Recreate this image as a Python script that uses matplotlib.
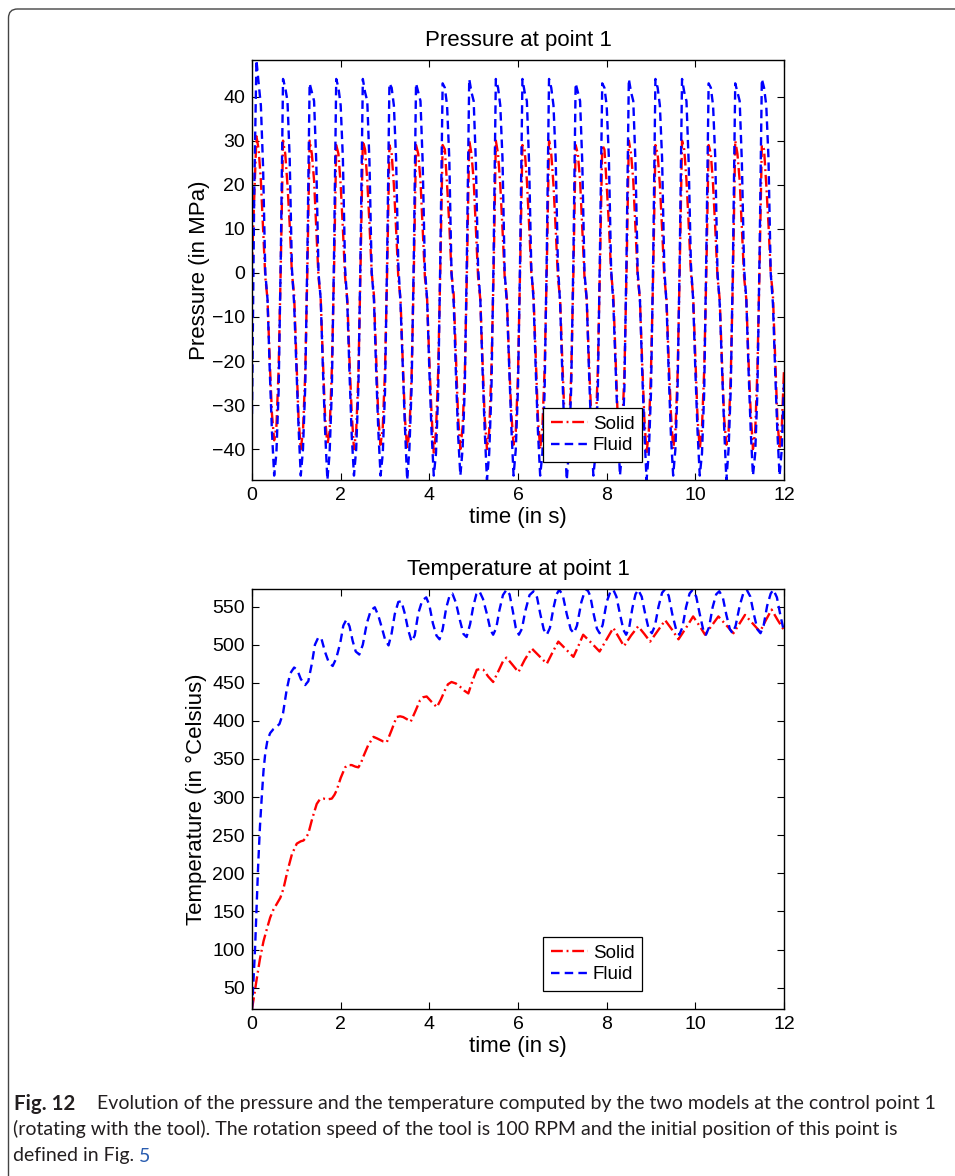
import numpy as np
import matplotlib
matplotlib.use("Agg")
import matplotlib.pyplot as plt
from matplotlib.patches import FancyBboxPatch
from matplotlib.transforms import IdentityTransform

# ---- pressure at point 1 (MPa), sampled every 0.05 s ----
p_time = np.arange(241) * 0.05
p_fluid_start = [-32, 18]
p_solid_start = [2, 17]
# one row per tool revolution (0.6 s), starting at each peak
p_fluid_cycles = [
    [48.3, 43, 38, 24, 0, -6, -22, -36, -46, -41, -27, 4],
    [44, 42, 39, 26, 1, -7, -21, -35, -46, -40, -26, 5],
    [43, 41, 39, 25, 0, -6, -22, -36, -47, -41, -27, 4],
    [44, 42, 38, 26, 1, -7, -23, -37, -46, -40, -26, 6],
    [44, 41, 39, 25, 0, -6, -22, -36, -46, -41, -27, 5],
    [43, 42, 38, 26, 2, -7, -21, -35, -47, -40, -26, 4],
    [43, 41, 39, 25, 1, -6, -22, -36, -46, -41, -27, 5],
    [43, 42, 38, 26, 0, -7, -23, -37, -46, -40, -26, 6],
    [44, 41, 39, 25, 1, -6, -22, -36, -47, -41, -27, 4],
    [44, 42, 38, 26, 0, -7, -21, -35, -46, -40, -26, 5],
    [44, 41, 39, 25, 1, -6, -22, -36, -46, -41, -27, 5],
    [44, 42, 38, 26, 2, -7, -23, -37, -47, -40, -26, 4],
    [43, 41, 39, 25, 0, -6, -22, -36, -46, -41, -27, 6],
    [43, 42, 38, 26, 1, -7, -21, -35, -46, -40, -26, 5],
    [44, 41, 39, 25, 0, -6, -22, -36, -47, -41, -27, 4],
    [44, 42, 38, 26, 1, -7, -23, -37, -46, -40, -26, 5],
    [44, 41, 39, 25, 2, -6, -22, -36, -46, -41, -27, 6],
    [43, 42, 38, 26, 0, -7, -21, -35, -47, -40, -26, 4],
    [43, 41, 39, 25, 1, -6, -22, -36, -46, -41, -27, 5],
    [44, 42, 38, 26, 0, -7, -22, -36, -46, -40, -25],
]
p_solid_cycles = [
    [31, 28, 21, 10, -1, -6, -20, -32, -38, -35, -22, 2],
    [30, 27, 20, 11, 0, -5, -19, -33, -40, -36, -23, 1],
    [30, 27, 21, 10, -1, -6, -20, -33, -39, -36, -22, 0],
    [29, 27, 20, 10, -1, -6, -20, -32, -40, -36, -23, 2],
    [30, 28, 21, 11, 0, -5, -19, -33, -39, -35, -22, 1],
    [29, 27, 20, 10, -1, -6, -20, -33, -40, -36, -23, 0],
    [29, 27, 21, 10, -1, -6, -20, -32, -41, -36, -22, 2],
    [29, 28, 20, 11, 0, -5, -19, -33, -40, -35, -23, 1],
    [30, 27, 21, 10, -1, -6, -20, -33, -40, -36, -22, 0],
    [30, 27, 20, 10, -1, -6, -20, -32, -39, -36, -23, 2],
    [29, 28, 21, 11, 0, -5, -19, -33, -40, -35, -22, 1],
    [30, 27, 20, 10, -1, -6, -20, -33, -40, -36, -23, 0],
    [29, 27, 21, 10, -1, -6, -20, -32, -40, -36, -22, 2],
    [29, 28, 20, 11, 0, -5, -19, -33, -41, -35, -23, 1],
    [30, 27, 21, 10, -1, -6, -20, -33, -41, -36, -22, 0],
    [29, 27, 20, 10, -1, -6, -20, -32, -40, -36, -23, 2],
    [30, 28, 21, 11, 0, -5, -19, -33, -40, -35, -22, 1],
    [29, 27, 20, 10, -1, -6, -20, -33, -39, -36, -23, 0],
    [30, 27, 21, 10, -1, -6, -20, -32, -40, -36, -22, 2],
    [29, 28, 20, 11, 0, -5, -19, -33, -40, -35, -22],
]

# ---- temperature at point 1 (deg C) ----
t_fluid_time = [
    0.00, 0.03, 0.07, 0.10, 0.14, 0.18, 0.22, 0.26, 0.30, 0.35, 0.41, 0.48,
    0.55, 0.62, 0.70, 0.78, 0.86, 0.95, 1.02, 1.10, 1.20, 1.27, 1.35, 1.42,
    1.50, 1.57, 1.65, 1.73, 1.82, 1.90, 1.99, 2.06, 2.13, 2.20, 2.27, 2.34,
    2.42, 2.50, 2.59, 2.68, 2.77, 2.85, 2.93, 3.00, 3.08, 3.15, 3.22, 3.30,
    3.37, 3.45, 3.52, 3.60, 3.67, 3.75, 3.84, 3.93, 4.00, 4.08, 4.16, 4.23,
    4.30, 4.38, 4.46, 4.52, 4.60, 4.69, 4.77, 4.84, 4.92, 4.99, 5.06, 5.13,
    5.21, 5.30, 5.38, 5.44, 5.51, 5.58, 5.66, 5.74, 5.81, 5.88, 5.95, 6.02,
    6.09, 6.16, 6.26, 6.35, 6.43, 6.50, 6.58, 6.65, 6.72, 6.80, 6.87, 6.93,
    7.01, 7.10, 7.19, 7.26, 7.33, 7.43, 7.50, 7.56, 7.63, 7.70, 7.78, 7.84,
    7.91, 8.00, 8.08, 8.15, 8.22, 8.30, 8.38, 8.44, 8.51, 8.58, 8.65, 8.71,
    8.79, 8.87, 8.95, 9.02, 9.09, 9.17, 9.25, 9.32, 9.40, 9.48, 9.57, 9.64,
    9.71, 9.79, 9.87, 9.94, 10.02, 10.10, 10.18, 10.24, 10.31, 10.39, 10.47, 10.54,
    10.62, 10.70, 10.78, 10.84, 10.91, 11.00, 11.08, 11.16, 11.24, 11.32, 11.40, 11.47,
    11.54, 11.62, 11.70, 11.76, 11.84, 11.92, 12.00,
]
t_fluid = [
    22, 55, 103, 150, 212, 262, 300, 335, 358, 375, 384, 389,
    392, 396, 410, 440, 462, 470, 467, 455, 447, 452, 475, 500,
    510, 507, 490, 477, 472, 482, 502, 525, 533, 524, 505, 491,
    487, 500, 528, 545, 549, 538, 522, 507, 499, 515, 540, 556,
    557, 540, 520, 504, 512, 541, 558, 562, 552, 528, 512, 507,
    520, 548, 565, 567, 555, 532, 514, 510, 527, 550, 566, 570,
    560, 540, 519, 513, 522, 545, 565, 572, 566, 545, 522, 513,
    521, 543, 565, 570, 562, 541, 520, 513, 522, 548, 566, 572,
    565, 540, 520, 515, 525, 556, 569, 573, 564, 542, 521, 515,
    526, 556, 569, 572, 563, 540, 519, 513, 523, 548, 566, 572,
    563, 540, 520, 515, 525, 550, 568, 573, 564, 540, 519, 513,
    523, 549, 567, 572, 563, 540, 519, 513, 523, 549, 566, 570,
    562, 539, 520, 515, 525, 551, 567, 572, 563, 540, 520, 515,
    525, 551, 567, 572, 562, 538, 517,
]
t_solid_time = [
    0.00, 0.05, 0.10, 0.18, 0.26, 0.34, 0.41, 0.48, 0.56, 0.64, 0.71, 0.80,
    0.90, 1.01, 1.10, 1.16, 1.22, 1.27, 1.36, 1.46, 1.53, 1.61, 1.70, 1.80,
    1.86, 1.91, 2.00, 2.10, 2.17, 2.25, 2.33, 2.40, 2.46, 2.51, 2.62, 2.74,
    2.82, 2.89, 2.96, 3.04, 3.15, 3.26, 3.34, 3.41, 3.50, 3.58, 3.68, 3.79,
    3.86, 3.94, 4.05, 4.17, 4.26, 4.35, 4.42, 4.50, 4.60, 4.69, 4.78, 4.88,
    4.97, 5.07, 5.15, 5.22, 5.33, 5.44, 5.58, 5.66, 5.74, 5.87, 6.01, 6.15,
    6.31, 6.48, 6.65, 6.78, 6.91, 7.08, 7.25, 7.36, 7.47, 7.66, 7.84, 8.00,
    8.15, 8.27, 8.39, 8.55, 8.71, 8.85, 8.98, 9.15, 9.32, 9.47, 9.62, 9.79,
    9.95, 10.09, 10.22, 10.37, 10.52, 10.69, 10.86, 10.99, 11.12, 11.29, 11.46, 11.59,
    11.72, 11.85, 12.00,
]
t_solid = [
    22, 40, 59, 88, 111, 128, 142, 152, 160, 168, 180, 203,
    225, 239, 242, 243, 247, 252, 272, 291, 297, 298, 297, 298,
    303, 309, 325, 339, 342, 342, 340, 339, 345, 353, 368, 379,
    377, 375, 373, 372, 388, 405, 406, 405, 402, 399, 412, 427,
    431, 432, 425, 418, 428, 440, 448, 451, 449, 445, 440, 436,
    452, 467, 468, 467, 458, 451, 468, 478, 483, 474, 464, 480,
    495, 485, 475, 490, 504, 494, 484, 498, 513, 502, 491, 507,
    522, 510, 498, 512, 524, 514, 504, 518, 532, 520, 507, 522,
    537, 525, 513, 525, 537, 526, 515, 527, 539, 528, 517, 532,
    546, 533, 519,
]

time_ticks = [0, 2, 4, 6, 8, 10, 12]
p_ticks = [-40, -30, -20, -10, 0, 10, 20, 30, 40]
t_ticks = [50, 100, 150, 200, 250, 300, 350, 400, 450, 500, 550]

p_fluid = p_fluid_start + [v for row in p_fluid_cycles for v in row]
p_solid = p_solid_start + [v for row in p_solid_cycles for v in row]

plt.rcParams['font.family'] = ['Liberation Sans', 'DejaVu Sans']

W, H = 955, 1176
fig = plt.figure(figsize=(W / 100, H / 100), dpi=100)
fig.patch.set_facecolor('white')

ax1 = fig.add_axes([252 / W, (H - 480) / H, 532 / W, 420 / H])
ax2 = fig.add_axes([252 / W, (H - 1009) / H, 532 / W, 420 / H])

solid_style = dict(color='red', lw=1.7, ls=(0, (5, 1.6, 0.8, 1.6)))
fluid_style = dict(color='blue', lw=1.7, ls=(0, (3.6, 2.2)))

ax1.plot(p_time, p_solid, label='Solid', **solid_style)
ax1.plot(p_time, p_fluid, label='Fluid', **fluid_style)
ax1.set_xlim(0, 12)
ax1.set_ylim(-47, 48.3)
ax1.set_yticks(p_ticks)
ax1.set_yticklabels(['\u2212' + str(-v) if v < 0 else str(v) for v in p_ticks])
ax1.set_title('Pressure at point 1', fontsize=16, pad=10)
ax1.set_ylabel('Pressure (in MPa)', fontsize=16, labelpad=1)

ax2.plot(t_solid_time, t_solid, label='Solid', **solid_style)
ax2.plot(t_fluid_time, t_fluid, label='Fluid', **fluid_style)
ax2.set_xlim(0, 12)
ax2.set_ylim(22, 573)
ax2.set_yticks(t_ticks)
ax2.set_title('Temperature at point 1', fontsize=16, pad=10)
ax2.set_ylabel('Temperature (in \u00b0Celsius)', fontsize=16, labelpad=4)

for ax in (ax1, ax2):
    ax.set_xticks(time_ticks)
    ax.set_xlabel('time (in s)', fontsize=16, labelpad=2)
    ax.tick_params(direction='in', top=True, right=True, length=5, width=0.8,
                   labelsize=14, pad=5)
    for s in ax.spines.values():
        s.set_linewidth(1.0)
    leg = ax.legend(loc='lower left', bbox_to_anchor=(0.547, 0.043),
                    fontsize=13.5, fancybox=False, framealpha=1,
                    edgecolor='black', handlelength=2.0, handletextpad=0.25,
                    borderpad=0.4, labelspacing=0.25, borderaxespad=0)
    leg.get_frame().set_linewidth(0.9)

# rounded frame around the figure panel
frame = FancyBboxPatch((8.5, -60), 1100, H - 9 + 60,
                       boxstyle='round,pad=0,rounding_size=9',
                       fc='none', ec='#444444', lw=1.0,
                       transform=IdentityTransform())
fig.add_artist(frame)

cap = dict(family=['Lato', 'DejaVu Sans'], fontsize=14, color='#231f20',
           va='baseline', ha='left')
fig.text(14 / W, (H - 1109.5) / H, 'Fig. 12', fontweight='bold',
         **{**cap, 'fontsize': 14.8})
fig.text(97 / W, (H - 1109.5) / H,
         'Evolution of the pressure and the temperature computed by the two '
         'models at the control point 1', **cap)
fig.text(13 / W, (H - 1135.5) / H,
         '(rotating with the tool). The rotation speed of the tool is 100 RPM '
         'and the initial position of this point is', **cap)
last = fig.text(13 / W, (H - 1161.5) / H, 'defined in Fig. ', **cap)
fig.canvas.draw()
bb = last.get_window_extent(fig.canvas.get_renderer())
cap['color'] = '#2a5db0'
fig.text(bb.x1 / W, (H - 1161.5) / H, '5', **cap)

fig.savefig('out.png', dpi=100)
